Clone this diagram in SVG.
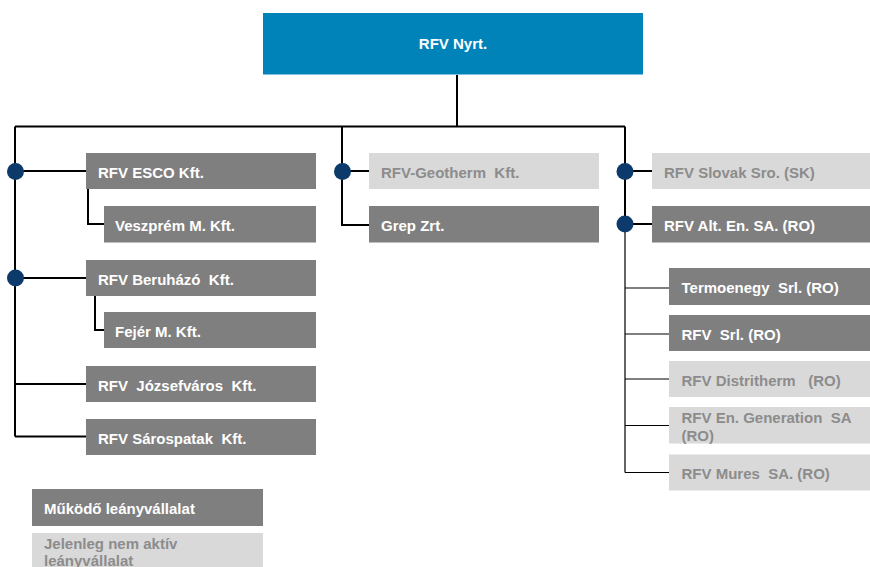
<svg xmlns="http://www.w3.org/2000/svg" width="870" height="567" viewBox="0 0 870 567">
<style>
text{font-family:"Liberation Sans",Arial,sans-serif;font-weight:bold;font-size:15px;white-space:pre}
.d rect{fill:#7f7f7f}
.d text{fill:#ffffff}
.l rect{fill:#d9d9d9}
.l text{fill:#8c8c8c}
.c{fill:none;stroke:#000;stroke-width:2}
.t{fill:none;stroke:#000;stroke-width:1.2}
.dot{fill:#0b3a6b}
</style>
<rect width="870" height="567" fill="#fff"/>
<g id="connectors">
<path class="c" d="M457,75V126.5M15,126.5H625M15,126.5V436.5M15,171H86M15,278H86M15,384H86M15,436.5H86M88,189V224H104M95,296V330H104M342,126.5V225H369M342,171H369M625,126.5V224M625,171H652M625,224H652"/>
<path class="t" d="M625,224V472.5M625,288H669M625,334H669M625,379H669M625,425.5H669M625,472.5H669"/>
<circle class="dot" cx="15.5" cy="171.5" r="8.5"/>
<circle class="dot" cx="15.5" cy="278" r="8.5"/>
<circle class="dot" cx="342.5" cy="171.5" r="8.5"/>
<circle class="dot" cx="625" cy="171.5" r="8.5"/>
<circle class="dot" cx="625" cy="224" r="8.5"/>
</g>
<g id="rfv-nyrt"><rect x="263" y="13" width="380" height="61.5" fill="#0083b8"/><text x="453" y="49" fill="#fff" text-anchor="middle">RFV Nyrt.</text></g>
<g id="esco" class="d"><rect x="86" y="153" width="230" height="36"/><text x="98" y="178" xml:space="preserve">RFV ESCO Kft.</text></g>
<g id="veszprem" class="d"><rect x="104" y="206" width="212" height="36.5"/><text x="115" y="230.5" xml:space="preserve">Veszprém M. Kft.</text></g>
<g id="beruhazo" class="d"><rect x="86" y="260" width="230" height="36"/><text x="98" y="284.5" xml:space="preserve">RFV Beruházó  Kft.</text></g>
<g id="fejer" class="d"><rect x="104" y="312" width="212" height="36"/><text x="115" y="336.5" xml:space="preserve">Fejér M. Kft.</text></g>
<g id="jozsefvaros" class="d"><rect x="86" y="366" width="230" height="36"/><text x="98" y="390.5" xml:space="preserve">RFV  Józsefváros  Kft.</text></g>
<g id="sarospatak" class="d"><rect x="86" y="419" width="230" height="36"/><text x="98" y="443.5" xml:space="preserve">RFV Sárospatak  Kft.</text></g>
<g id="geotherm" class="l"><rect x="369" y="153" width="230" height="36"/><text x="381" y="178" xml:space="preserve">RFV-Geotherm  Kft.</text></g>
<g id="grep" class="d"><rect x="369" y="206" width="230" height="36.5"/><text x="381" y="230.5">Grep Zrt.</text></g>
<g id="slovak" class="l"><rect x="652" y="153" width="218" height="36"/><text x="664" y="178">RFV Slovak Sro. (SK)</text></g>
<g id="alt-en" class="d"><rect x="652" y="206" width="218" height="36.5"/><text x="664" y="230.5">RFV Alt. En. SA. (RO)</text></g>
<g id="termoenegy" class="d"><rect x="669" y="268" width="201" height="37"/><text x="681.5" y="293" xml:space="preserve">Termoenegy  Srl. (RO)</text></g>
<g id="rfv-srl" class="d"><rect x="669" y="315" width="201" height="36"/><text x="681.5" y="339.5" xml:space="preserve">RFV  Srl. (RO)</text></g>
<g id="distritherm" class="l"><rect x="669" y="361" width="201" height="36"/><text x="681.5" y="385.5" xml:space="preserve">RFV Distritherm   (RO)</text></g>
<g id="en-generation" class="l"><rect x="669" y="407" width="201" height="36.5"/><text x="681.5" y="423" xml:space="preserve">RFV En. Generation  SA</text><text x="681.5" y="441">(RO)</text></g>
<g id="mures" class="l"><rect x="669" y="454.5" width="201" height="36"/><text x="681.5" y="479" xml:space="preserve">RFV Mures  SA. (RO)</text></g>
<g id="legend-active" class="d"><rect x="32" y="489" width="231" height="37"/><text x="44" y="513.5">Működő leányvállalat</text></g>
<g id="legend-inactive" class="l"><rect x="32" y="533" width="231" height="34"/><text x="44" y="549">Jelenleg nem aktív</text><text x="44" y="566">leányvállalat</text></g>
</svg>
